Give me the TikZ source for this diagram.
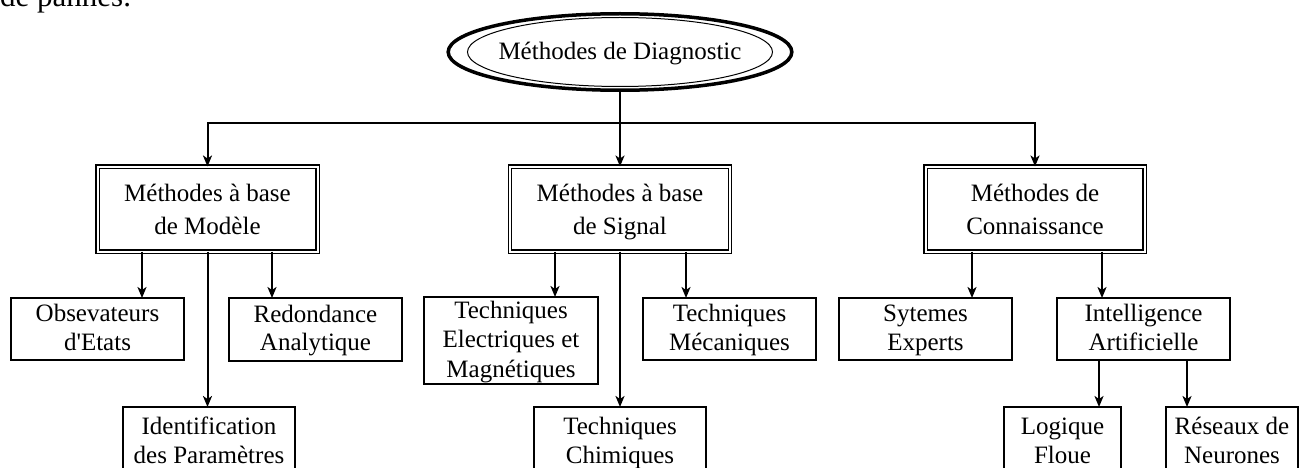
\documentclass[tikz,border=0pt]{standalone}
\usepackage{fontspec}
\setmainfont{Liberation Serif}
\usetikzlibrary{arrows.meta,shapes.geometric}

% invisible strut of given height and depth
\newcommand\lnstrut[2]{\rule[-#2]{0pt}{\dimexpr#1+#2\relax}}
\newcommand\cl{\lnstrut{21pt}{7pt}}
\newcommand\ml{\lnstrut{24pt}{6pt}}

\tikzset{
  cbox/.style={draw, line width=1.8pt, inner sep=0pt, outer sep=0pt, align=center,
    font=\fontsize{25}{28.3}\selectfont},
  mbox/.style={draw, double, line width=1.3pt, double distance=2pt, inner sep=0pt,
    outer sep=0pt, align=center, font=\fontsize{25}{32.3}\selectfont},
  link/.style={line width=2pt},
  tip/.tip={Stealth[length=11pt,width=9pt,inset=3pt]},
  arr/.style={link, -tip},
}

\begin{document}
\begin{tikzpicture}[x=1pt,y=-1pt]
\useasboundingbox (0,0) rectangle (1303,468);
\clip (0,0) rectangle (1303,468);

% tail of the preceding paragraph
\node[anchor=base west, inner sep=0pt, font=\fontsize{31}{36}\selectfont] (prev) at (0,7) {de pannes.};

% root
\node[ellipse, draw, line width=3.5pt, minimum width=312.5pt, minimum height=76.5pt,
  inner sep=0pt, outer sep=0pt, font=\fontsize{25}{30}\selectfont] (diag) at (620,52)
  {\lnstrut{21pt}{6pt}Méthodes de Diagnostic};
\draw[line width=1pt] (diag.center) ellipse [x radius=152.5pt, y radius=34.5pt];

% main families
\node[mbox, minimum width=220pt, minimum height=85pt] (mod) at (207.5,209) {\ml Méthodes à base\\\ml de Modèle};
\node[mbox, minimum width=220pt, minimum height=85pt] (sig) at (620,209) {\ml Méthodes à base\\\ml de Signal};
\node[mbox, minimum width=219pt, minimum height=85pt] (con) at (1035,209) {\ml Méthodes de\\\ml Connaissance};

% model-based
\node[cbox, minimum width=173pt, minimum height=62pt] (obs) at (97.5,329) {\cl Obsevateurs\\\cl d\textquotesingle Etats};
\node[cbox, minimum width=173pt, minimum height=63pt] (red) at (315.5,329.5) {\cl Redondance\\\cl Analytique};
\node[cbox, minimum width=172pt, minimum height=70pt] (idp) at (209,442) {\cl Identification\\\cl des Paramètres};

% signal-based
\node[cbox, minimum width=174pt, minimum height=85pt, font=\fontsize{25}{29.5}\selectfont] (elec) at (511,340.5)
  {\cl Techniques\\\cl Electriques et\\\cl Magnétiques};
\node[cbox, minimum width=173pt, minimum height=62pt] (meca) at (729.5,329) {\cl Techniques\\\cl Mécaniques};
\node[cbox, minimum width=172pt, minimum height=70pt] (chim) at (620,442) {\cl Techniques\\\cl Chimiques};

% knowledge-based
\node[cbox, minimum width=173pt, minimum height=62pt] (syst) at (925.5,329) {\cl Sytemes\\\cl Experts};
\node[cbox, minimum width=173pt, minimum height=62pt] (ia) at (1143.5,329) {\cl Intelligence\\\cl Artificielle};
\node[cbox, minimum width=117pt, minimum height=70pt] (logi) at (1062.5,442) {\cl Logique\\\cl Floue};
\node[cbox, minimum width=132pt, minimum height=70pt] (neur) at (1232,442) {\cl Réseaux de\\\cl Neurones};

% connector columns
\coordinate (hl) at (620,123);
\coordinate (xobs) at (142,0);
\coordinate (xred) at (272,0);
\coordinate (xelec) at (555,0);
\coordinate (xmeca) at (686,0);
\coordinate (xsyst) at (972,0);
\coordinate (xia) at (1102,0);
\coordinate (xlogi) at (1099,0);
\coordinate (xneur) at (1187,0);

% root to families
\draw[arr] (diag.south) -- (sig.north);
\draw[link, tip-tip] (mod.north) |- (hl) -| (con.north);

% families to techniques
\draw[arr] (mod.south -| xobs) -- (obs.north -| xobs);
\draw[arr] (mod.south -| xred) -- (red.north -| xred);
\draw[arr] (mod.south) -- (idp.north -| mod.south);
\draw[arr] (sig.south -| xelec) -- (elec.north -| xelec);
\draw[arr] (sig.south -| xmeca) -- (meca.north -| xmeca);
\draw[arr] (sig.south) -- (chim.north -| sig.south);
\draw[arr] (con.south -| xsyst) -- (syst.north -| xsyst);
\draw[arr] (con.south -| xia) -- (ia.north -| xia);
\draw[arr] (ia.south -| xlogi) -- (logi.north -| xlogi);
\draw[arr] (ia.south -| xneur) -- (neur.north -| xneur);
\end{tikzpicture}
\end{document}
